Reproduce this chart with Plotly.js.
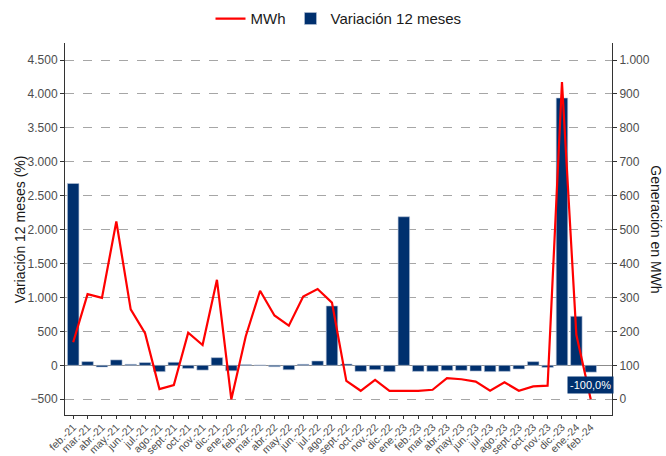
<!DOCTYPE html>
<html>
<head>
<meta charset="utf-8">
<script src="https://cdn.plot.ly/plotly-3.0.1.min.js"></script>
<style>html,body{margin:0;padding:0;background:#fff;}#chart{width:666px;height:456px;}</style>
</head>
<body>
<div id="chart"></div>
<script>
const months = ["feb.-21","mar.-21","abr.-21","may.-21","jun.-21","jul.-21","ago.-21","sept.-21","oct.-21","nov.-21","dic.-21",
"ene.-22","feb.-22","mar.-22","abr.-22","may.-22","jun.-22","jul.-22","ago.-22","sept.-22","oct.-22","nov.-22","dic.-22",
"ene.-23","feb.-23","mar.-23","abr.-23","may.-23","jun.-23","jul.-23","ago.-23","sept.-23","oct.-23","nov.-23","dic.-23",
"ene.-24","feb.-24"];
const variacion = [2680,55,-25,80,15,40,-93,45,-45,-70,113,
-80,10,5,-20,-65,15,64,875,20,-89,-64,-93,
2190,-89,-89,-74,-74,-84,-93,-89,-54,54,-30,3940,
723,-100];
const mwh = [168,310,299,524,265,195,30,42,196,160,352,
0,185,320,247,217,303,325,285,54,25,57,25,
25,25,28,62,59,52,25,50,25,38,40,935,
190,0];
const labelText = "-100,0%";
const labelIndex = 36;
const labelY = -295;

const navy = "#00306e";
const gray = "#4d4d4d";
const font = "Liberation Sans, Arial, sans-serif";

const data = [
  {type:"bar", x: months, y: variacion, name:"Variación 12 meses", yaxis:"y",
   marker:{color:navy, line:{color:"#b8c4d8", width:0.6}}, width:0.8, legendrank:2},
  {type:"scatter", mode:"lines", x: months, y: mwh, name:"MWh", yaxis:"y2",
   line:{color:"#ff0000", width:2.2}, legendrank:1}
];

const layout = {
  width:666, height:456,
  margin:{l:65, r:54, t:43, b:41},
  paper_bgcolor:"#fff", plot_bgcolor:"#fff",
  separators:",.",
  font:{family:font, color:gray, size:12},
  showlegend:true,
  legend:{orientation:"h", x:0.5, xanchor:"center", xref:"paper", y:0.995, yanchor:"top", yref:"container",
          font:{size:15, color:"#1a1a1a"}, itemwidth:30, traceorder:"normal"},
  bargap:0.2,
  xaxis:{type:"category", range:[-0.57, 37.48], tickangle:-45, tickfont:{size:10.5, color:gray},
         ticklabelstandoff:-2,
         showline:true, linecolor:"#333", linewidth:1, ticks:"outside", ticklen:3, tickcolor:"#333",
         showgrid:false, zeroline:false, automargin:false},
  yaxis:{range:[-732, 4751], tickvals:[-500,0,500,1000,1500,2000,2500,3000,3500,4000,4500],
         tickformat:",d", tickfont:{size:12, color:gray},
         showline:true, linecolor:"#333", linewidth:1, ticks:"outside", ticklen:4, tickcolor:"#333",
         showgrid:true, gridcolor:"#a6a6a6", griddash:"dash", gridwidth:1,
         zeroline:true, zerolinecolor:"#8c8c8c", zerolinewidth:1.2, automargin:false},
  yaxis2:{overlaying:"y", side:"right", range:[-46.4, 1050.2],
          tickvals:[0,100,200,300,400,500,600,700,800,900,1000], tickformat:",d",
          tickfont:{size:12, color:gray},
          showline:true, linecolor:"#333", linewidth:1, ticks:"outside", ticklen:4, tickcolor:"#333",
          showgrid:false, zeroline:false, automargin:false},
  annotations:[
    {text:"Variación 12 meses (%)", xref:"paper", yref:"paper", x:-0.082, y:0.5, xanchor:"center", yanchor:"middle",
     textangle:-90, showarrow:false, font:{size:14, color:"#1a1a1a"}},
    {text:"Generación en MWh", xref:"paper", yref:"paper", x:1.08, y:0.5, xanchor:"center", yanchor:"middle",
     textangle:90, showarrow:false, font:{size:14, color:"#1a1a1a"}},
    {text:labelText, x:months[labelIndex], y:labelY, xref:"x", yref:"y", showarrow:false,
     bgcolor:navy, font:{size:11, color:"#fff"}, borderpad:2}
  ]
};

Plotly.newPlot("chart", data, layout, {displayModeBar:false, staticPlot:true});
</script>
</body>
</html>
